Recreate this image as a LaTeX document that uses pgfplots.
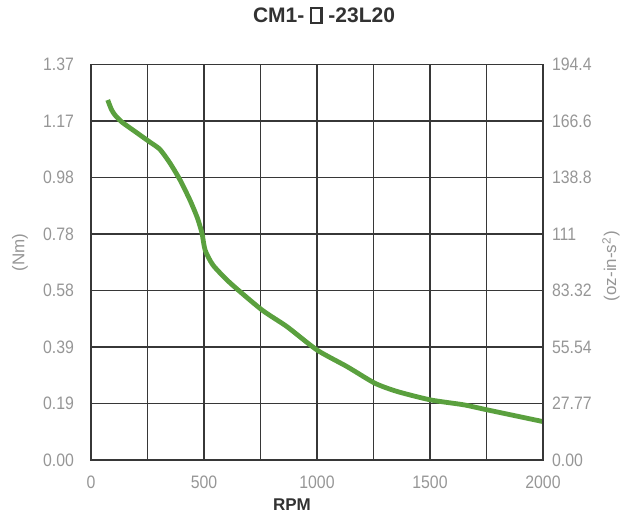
\documentclass[border=0pt]{standalone}
\usepackage{fontspec}
\setmainfont{Liberation Sans}
\newfontfamily\tickfont[FakeStretch=0.88]{Liberation Sans}
\usepackage{pgfplots}
\pgfplotsset{compat=1.18}
\definecolor{curvegreen}{RGB}{90,160,62}
\definecolor{gridc}{RGB}{55,55,55}
\definecolor{tickc}{RGB}{150,150,150}
\definecolor{titlec}{RGB}{50,50,50}
\newcommand{\squarebox}{{\setlength\fboxsep{0pt}\setlength\fboxrule{1.1pt}\raisebox{0.02em}{\fbox{\rule{0pt}{0.62em}\hspace{0.38em}}}}}
\begin{document}
\begin{tikzpicture}
\useasboundingbox (-45.5pt,-31.5pt) rectangle (266pt,230pt);
\pgfplotsset{
  base/.style={
    at={(0pt,0pt)}, anchor=south west,
    scale only axis, width=226pt, height=197.75pt,
    xmin=0, xmax=2000,
    major tick length=0pt,
    axis line style={draw=gridc, line width=0.9pt},
    tick label style={font=\tickfont\fontsize{9}{10}\selectfont, text=tickc},
    /pgf/number format/assume math mode=true,
  }
}
\begin{axis}[base,
  ymin=0, ymax=1.37,
  xtick={0,250,...,2000},
  xticklabels={0,,500,,1000,,1500,,2000},
  ytick={0,0.195714,0.391429,0.587143,0.782857,0.978571,1.174286,1.37},
  yticklabels={0.00,0.19,0.39,0.58,0.78,0.98,1.17,1.37},
  grid=major,
  major grid style={draw=gridc, line width=0.6pt},
  xticklabel style={yshift=-4.5pt},
  yticklabel style={xshift=-5pt},
  title={CM1- \squarebox\ -23L20},
  title style={at={(axis description cs:0.5,1)}, anchor=center, yshift=18.5pt, xshift=3.5pt,
    font=\bfseries\fontsize{10.5}{12}\selectfont, text=titlec},
  xlabel={RPM},
  xlabel style={at={(axis description cs:0.5,0)}, anchor=center, yshift=-22.5pt, xshift=-12.5pt,
    font=\bfseries\fontsize{8.5}{10}\selectfont, text=titlec},
  ylabel={(Nm)},
  ylabel style={at={(axis description cs:0,0.5)}, anchor=center, xshift=5pt, yshift=35.5pt,
    font=\fontsize{8.5}{10}\selectfont, text=tickc},
]
\addplot[curvegreen, line width=2.4pt, smooth, tension=0.4] coordinates {
 (74,1.247) (90,1.215) (105,1.196) (136,1.171) (200,1.135) (261,1.101) (305,1.076)
 (349,1.029) (394,0.970) (438,0.900) (470,0.840) (491,0.786) (505,0.727)
 (540,0.675) (616,0.613) (756,0.520) (867,0.462) (1000,0.381) (1134,0.323)
 (1256,0.266) (1356,0.237) (1503,0.208) (1650,0.191) (1757,0.173) (2000,0.133)
};
\end{axis}
\begin{axis}[base,
  ymin=0, ymax=194.4,
  axis x line=none,
  axis y line*=right,
  ytick={0,27.7714,55.5429,83.3143,111.0857,138.8571,166.6286,194.4},
  yticklabels={0.00,27.77,55.54,83.32,111,138.8,166.6,194.4},
  yticklabel style={xshift=1pt},
  ylabel={(oz-in-s\textsuperscript{2})},
  ylabel style={at={(axis description cs:1,0.5)}, anchor=center, xshift=-2pt, yshift=-34pt,
    font=\fontsize{8.5}{10}\selectfont, text=tickc},
]
\end{axis}
\end{tikzpicture}
\end{document}
